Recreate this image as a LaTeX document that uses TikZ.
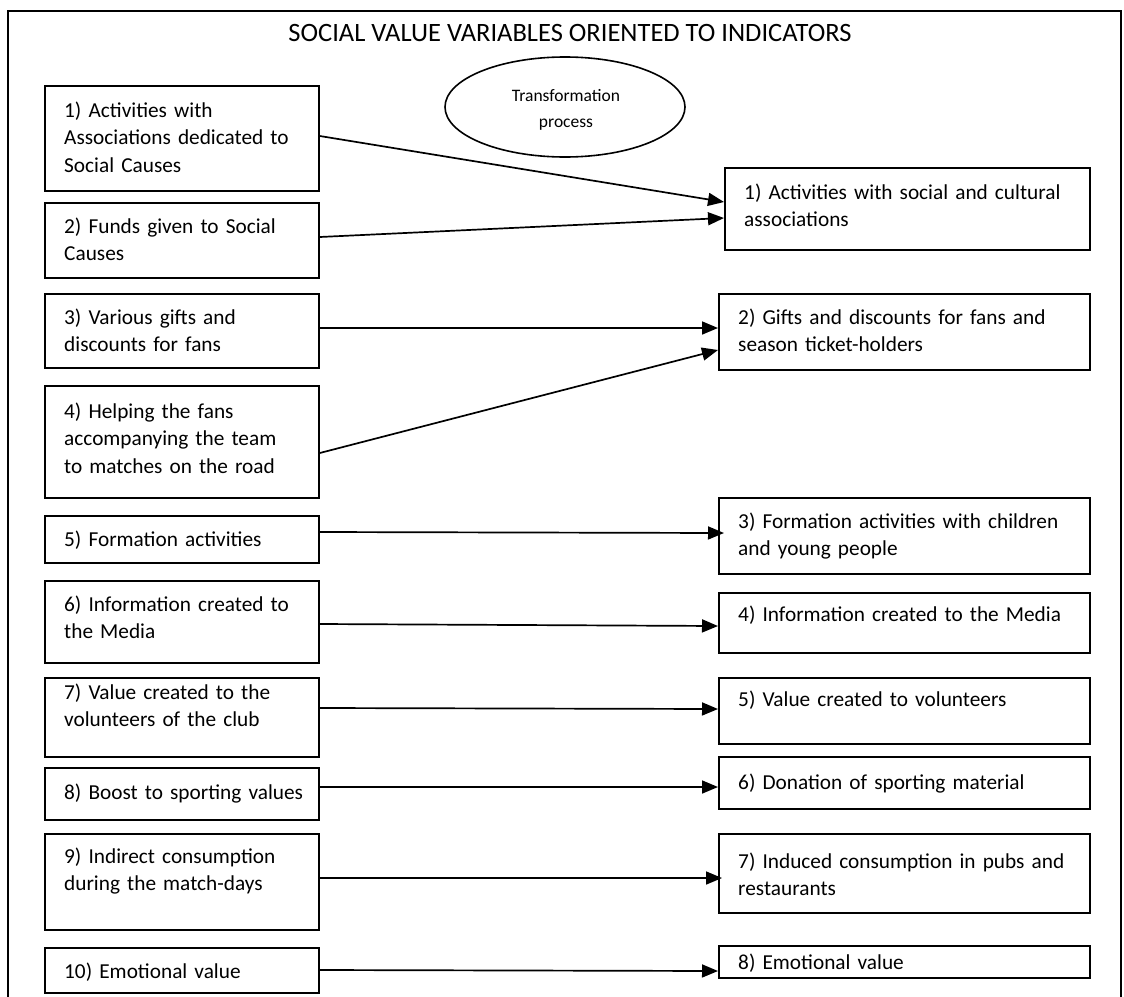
\documentclass[tikz,border=0pt]{standalone}
\usepackage{fontspec}
\setmainfont{Carlito}
\usetikzlibrary{arrows.meta,calc,shapes.geometric}

\tikzset{
  frameline/.style={line width=2.2pt, line cap=rect},
  box/.style={draw, line width=1.8pt, inner sep=0pt, anchor=north west},
  txt/.style={inner sep=0pt, anchor=base west, text width=360pt, align=left,
              font=\fontsize{21.3}{27.5}\selectfont},
  conn/.style={line width=1.7pt, -{Triangle[length=16pt, width=13pt]}},
  titletext/.style={inner sep=0pt, anchor=base, font=\fontsize{26.5}{32}\selectfont},
  process/.style={draw, ellipse, line width=1.6pt, inner sep=0pt,
                  minimum width=240pt, minimum height=100pt},
  processtext/.style={inner sep=0pt, align=center,
                  font=\fontsize{17.5}{26.5}\selectfont},
}

% a framed box with top-left aligned text
% #1 name, #2 left, #3 top, #4 right, #5 bottom, #6 first baseline offset, #7 text
\newcommand\itembox[7]{%
  \node[box, minimum width={(#4-#2)*1pt}, minimum height={(#5-#3)*1pt}] (#1) at (#2,#3) {};
  \node[txt] (#1t) at ($(#1.north west)+(20,#6)$) {#7};
}

\begin{document}
\begin{tikzpicture}[x=1pt, y=-1pt]
  \useasboundingbox (0,0) rectangle (1124,996);

  % outer frame (open at the bottom)
  \coordinate (fbl) at (8,1000);
  \coordinate (ftl) at (8,11);
  \coordinate (ftr) at (1121,11);
  \coordinate (fbr) at (1121,1000);
  \draw[frameline] (fbl) -- (ftl) -- (ftr) -- (fbr);

  \node[titletext] (title) at (570,41) {SOCIAL VALUE VARIABLES ORIENTED TO INDICATORS};

  \node[process] (proc) at (565,107) {};
  \node[processtext] (proctext) at ($(proc.center)+(1,3)$) {Transformation\\process};

  % social value variables
  \itembox{L1}{44}{85}{318}{190}{32}{1) Activities with\\Associations dedicated to\\Social Causes}
  \itembox{L2}{44}{202}{318}{277}{31}{2) Funds given to Social\\Causes}
  \itembox{L3}{44}{293}{318}{367}{31}{3) Various gifts and\\discounts for fans}
  \itembox{L4}{44}{385}{318}{497}{33}{4) Helping the fans\\accompanying the team\\to matches on the road}
  \itembox{L5}{44}{515}{318}{562}{31}{5) Formation activities}
  \itembox{L6}{44}{580}{318}{662}{31}{6) Information created to\\the Media}
  \itembox{L7}{44}{677}{318}{756}{22}{7) Value created to the\\volunteers of the club}
  \itembox{L8}{44}{767}{318}{819}{32}{8) Boost to sporting values}
  \itembox{L9}{44}{833}{318}{929}{30}{9) Indirect consumption\\during the match-days}
  \itembox{L10}{44}{947}{318}{992}{31}{10) Emotional value}

  % indicators
  \itembox{R1}{724}{167}{1089}{249}{32}{1) Activities with social and cultural\\associations}
  \itembox{R2}{718}{293}{1089}{369}{31}{2) Gifts and discounts for fans and\\season ticket-holders}
  \itembox{R3}{718}{497}{1089}{573}{31}{3) Formation activities with children\\and young people}
  \itembox{R4}{718}{592}{1089}{652}{29}{4) Information created to the Media}
  \itembox{R5}{718}{677}{1089}{743}{29}{5) Value created to volunteers}
  \itembox{R6}{718}{756}{1089}{808}{33}{6) Donation of sporting material}
  \itembox{R7}{718}{833}{1089}{912}{35}{7) Induced consumption in pubs and\\restaurants}
  \itembox{R8}{718}{945}{1089}{977}{24}{8) Emotional value}

  % connectors
  \draw[conn] ($(L1.north east)+(0,51)$) -- ($(R1.north west)+(0,35)$);
  \draw[conn] ($(L2.north east)+(0,35)$) -- ($(R1.north west)+(0,51)$);
  \draw[conn] ($(L3.north east)+(0,35)$) -- ($(R2.north west)+(0,35)$);
  \draw[conn] ($(L4.north east)+(0,68)$) -- ($(R2.north west)+(0,57)$);
  \draw[conn] ($(L5.north east)+(0,17)$) -- ($(R3.north west)+(6,36)$);
  \draw[conn] ($(L6.north east)+(0,44)$) -- ($(R4.north west)+(0,34)$);
  \draw[conn] ($(L7.north east)+(0,31)$) -- ($(R5.north west)+(0,32)$);
  \draw[conn] ($(L8.north east)+(0,20)$) -- ($(R6.north west)+(0,31)$);
  \draw[conn] ($(L9.north east)+(0,45)$) -- ($(R7.north west)+(4,45)$);
  \draw[conn] ($(L10.north east)+(0,23)$) -- ($(R8.north west)+(0,26)$);
\end{tikzpicture}
\end{document}
